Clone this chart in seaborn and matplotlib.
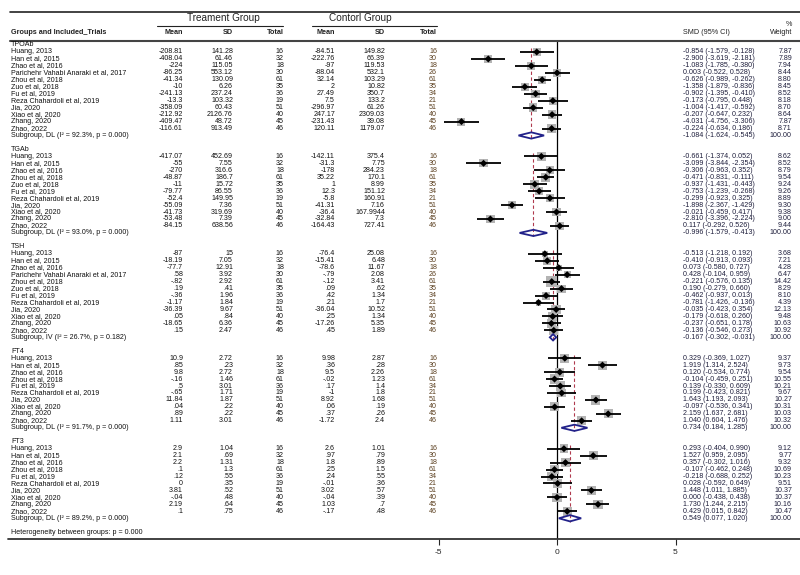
import numpy as np
import pandas as pd
import seaborn as sns
import matplotlib.pyplot as plt
from matplotlib.lines import Line2D
from matplotlib.transforms import blended_transform_factory

# ---- data ----
groups = ["TPOAb", "TGAb", "TSH", "FT4", "FT3"]
methods = ["DL", "DL", "IV", "DL", "DL"]
i2 = ["92.3%", "93.0%", "26.7%", "91.7%", "89.2%"]
p_het = ["0.000", "0.000", "0.182", "0.000", "0.000"]
sub_smd = [-1.084, -0.996, -0.167, 0.734, 0.549]
sub_lo = [-1.624, -1.579, -0.302, 0.184, 0.077]
sub_hi = [-0.545, -0.413, -0.031, 1.285, 1.020]

trials12 = ["Huang, 2013", "Han et al, 2015", "Zhao et al, 2016",
            "Parichehr Vahabi Anaraki et al, 2017", "Zhou et al, 2018", "Zuo et al, 2018",
            "Fu et al, 2019", "Reza Chahardoli et al, 2019", "Jia, 2020", "Xiao et al, 2020",
            "Zhang, 2020", "Zhao, 2022"]
trials11 = ["Huang, 2013", "Han et al, 2015", "Zhao et al, 2016", "Zhou et al, 2018",
            "Zuo et al, 2018", "Fu et al, 2019", "Reza Chahardoli et al, 2019", "Jia, 2020",
            "Xiao et al, 2020", "Zhang, 2020", "Zhao, 2022"]
trials10 = ["Huang, 2013", "Han et al, 2015", "Zhao et al, 2016", "Zhou et al, 2018",
            "Fu et al, 2019", "Reza Chahardoli et al, 2019", "Jia, 2020", "Xiao et al, 2020",
            "Zhang, 2020", "Zhao, 2022"]

tpo_t_mean = ["-208.81", "-408.04", "-224", "-86.25", "-41.34", "-10", "-241.13", "-13.3", "-358.09", "-212.92", "-409.47", "-116.61"]
tpo_t_sd = ["141.28", "61.46", "115.05", "553.12", "130.09", "6.26", "237.24", "103.32", "60.43", "2126.76", "48.72", "913.49"]
tpo_t_n = [16, 32, 18, 30, 61, 35, 36, 19, 51, 40, 45, 46]
tpo_c_mean = ["-84.51", "-222.76", "-97", "-88.04", "32.14", "2", "27.49", "7.5", "-296.97", "247.17", "-231.43", "120.11"]
tpo_c_sd = ["149.82", "66.39", "119.53", "532.1", "103.29", "10.82", "350.7", "133.2", "61.26", "2309.03", "39.08", "1179.07"]
tpo_c_n = [16, 30, 18, 26, 61, 35, 34, 21, 51, 40, 45, 46]
tpo_smd = [-0.854, -2.900, -1.083, 0.003, -0.626, -1.358, -0.902, -0.173, -1.004, -0.207, -4.031, -0.224]
tpo_lo = [-1.579, -3.619, -1.785, -0.522, -0.989, -1.879, -1.395, -0.795, -1.417, -0.647, -4.756, -0.634]
tpo_hi = [-0.128, -2.181, -0.380, 0.528, -0.262, -0.836, -0.410, 0.448, -0.592, 0.232, -3.306, 0.186]
tpo_w = [7.87, 7.89, 7.94, 8.44, 8.80, 8.45, 8.52, 8.18, 8.70, 8.64, 7.87, 8.71]

tg_t_mean = ["-417.07", "-55", "-270", "-48.87", "-11", "-79.77", "-52.4", "-55.09", "-41.73", "-53.48", "-84.15"]
tg_t_sd = ["452.69", "7.55", "316.6", "186.7", "15.72", "86.55", "149.95", "7.36", "319.69", "7.39", "638.56"]
tg_t_n = [16, 32, 18, 61, 35, 36, 19, 51, 40, 45, 46]
tg_c_mean = ["-142.11", "-31.3", "-178", "35.22", "1", "12.3", "-5.8", "-41.31", "-36.4", "-32.84", "-164.43"]
tg_c_sd = ["375.4", "7.75", "284.23", "170.1", "8.99", "151.12", "160.91", "7.16", "167.9944", "7.3", "727.41"]
tg_c_n = [16, 30, 18, 61, 35, 34, 21, 51, 40, 45, 46]
tg_smd = [-0.661, -3.099, -0.306, -0.471, -0.937, -0.753, -0.299, -1.898, -0.021, -2.810, 0.117]
tg_lo = [-1.374, -3.844, -0.963, -0.831, -1.431, -1.239, -0.923, -2.367, -0.459, -3.396, -0.292]
tg_hi = [0.052, -2.354, 0.352, -0.111, -0.443, -0.268, 0.325, -1.429, 0.417, -2.224, 0.526]
tg_w = [8.62, 8.52, 8.79, 9.54, 9.24, 9.26, 8.89, 9.30, 9.38, 9.00, 9.44]

tsh_t_mean = ["-87", "-18.19", "-77.7", ".58", "-.82", ".19", "-.36", "-1.17", "-36.39", ".05", "-18.65", ".15"]
tsh_t_sd = ["15", "7.05", "12.91", "3.92", "2.92", ".41", "1.96", "1.84", "9.67", ".84", "6.36", "2.47"]
tsh_t_n = [16, 32, 18, 30, 61, 35, 36, 19, 51, 40, 45, 46]
tsh_c_mean = ["-76.4", "-15.41", "-78.6", "-.79", "-.12", ".09", ".42", ".21", "-36.04", ".25", "-17.26", ".45"]
tsh_c_sd = ["25.08", "6.48", "11.67", "2.08", "3.41", ".62", "1.34", "1.7", "10.52", "1.34", "5.35", "1.89"]
tsh_c_n = [16, 30, 18, 26, 61, 35, 34, 21, 51, 40, 45, 46]
tsh_smd = [-0.513, -0.410, 0.073, 0.428, -0.221, 0.190, -0.462, -0.781, -0.035, -0.179, -0.237, -0.136]
tsh_lo = [-1.218, -0.913, -0.580, -0.104, -0.576, -0.279, -0.937, -1.426, -0.423, -0.618, -0.651, -0.546]
tsh_hi = [0.192, 0.093, 0.727, 0.959, 0.135, 0.660, 0.013, -0.136, 0.354, 0.260, 0.178, 0.273]
tsh_w = [3.68, 7.21, 4.28, 6.47, 14.42, 8.29, 8.10, 4.39, 12.13, 9.48, 10.63, 10.92]

ft4_t_mean = ["10.9", ".85", "9.8", "-.16", ".5", "-.65", "11.84", ".04", ".89", "1.11"]
ft4_t_sd = ["2.72", ".23", "2.72", "1.46", "3.01", "1.71", "1.87", ".22", ".22", "3.01"]
ft4_t_n = [16, 32, 18, 61, 36, 19, 51, 40, 45, 46]
ft4_c_mean = ["9.98", ".36", "9.5", "-.02", ".17", "-1", "8.92", ".06", ".37", "-1.72"]
ft4_c_sd = ["2.87", ".28", "2.26", "1.23", "1.4", "1.8", "1.68", ".19", ".26", "2.4"]
ft4_c_n = [16, 30, 18, 61, 34, 21, 51, 40, 45, 46]
ft4_smd = [0.329, 1.919, 0.120, -0.104, 0.139, 0.199, 1.643, -0.097, 2.159, 1.040]
ft4_lo = [-0.369, 1.314, -0.534, -0.459, -0.330, -0.423, 1.193, -0.536, 1.637, 0.604]
ft4_hi = [1.027, 2.524, 0.774, 0.251, 0.609, 0.821, 2.093, 0.341, 2.681, 1.476]
ft4_w = [9.37, 9.73, 9.54, 10.55, 10.21, 9.67, 10.27, 10.31, 10.03, 10.32]

ft3_t_mean = ["2.9", "2.1", "2.2", ".1", ".12", "0", "3.81", "-.04", "2.19", ".1"]
ft3_t_sd = ["1.04", ".69", "1.31", "1.3", ".55", ".35", ".52", ".48", ".64", ".75"]
ft3_t_n = [16, 32, 18, 61, 36, 19, 51, 40, 45, 46]
ft3_c_mean = ["2.6", ".97", "1.8", ".25", ".24", "-.01", "3.02", "-.04", "1.03", "-.17"]
ft3_c_sd = ["1.01", ".79", ".89", "1.5", ".55", ".36", ".57", ".39", ".7", ".48"]
ft3_c_n = [16, 30, 18, 61, 34, 21, 51, 40, 45, 46]
ft3_smd = [0.293, 1.527, 0.357, -0.107, -0.218, 0.028, 1.448, 0.000, 1.730, 0.429]
ft3_lo = [-0.404, 0.959, -0.302, -0.462, -0.688, -0.592, 1.011, -0.438, 1.244, 0.015]
ft3_hi = [0.990, 2.095, 1.016, 0.248, 0.252, 0.649, 1.885, 0.438, 2.215, 0.842]
ft3_w = [9.12, 9.77, 9.32, 10.69, 10.23, 9.51, 10.37, 10.37, 10.16, 10.47]

group_data = {
    "TPOAb": (trials12, tpo_t_mean, tpo_t_sd, tpo_t_n, tpo_c_mean, tpo_c_sd, tpo_c_n, tpo_smd, tpo_lo, tpo_hi, tpo_w),
    "TGAb": (trials11, tg_t_mean, tg_t_sd, tg_t_n, tg_c_mean, tg_c_sd, tg_c_n, tg_smd, tg_lo, tg_hi, tg_w),
    "TSH": (trials12, tsh_t_mean, tsh_t_sd, tsh_t_n, tsh_c_mean, tsh_c_sd, tsh_c_n, tsh_smd, tsh_lo, tsh_hi, tsh_w),
    "FT4": (trials10, ft4_t_mean, ft4_t_sd, ft4_t_n, ft4_c_mean, ft4_c_sd, ft4_c_n, ft4_smd, ft4_lo, ft4_hi, ft4_w),
    "FT3": (trials10, ft3_t_mean, ft3_t_sd, ft3_t_n, ft3_c_mean, ft3_c_sd, ft3_c_n, ft3_smd, ft3_lo, ft3_hi, ft3_w),
}
cols = ["trial", "t_mean", "t_sd", "t_n", "c_mean", "c_sd", "c_n", "smd", "lo", "hi", "w"]

# ---- lay out rows ----
studies = []
subgroups = []
headers = []
r = 0
for gi, g in enumerate(groups):
    headers.append((g, r))
    r += 1
    first = r
    d = pd.DataFrame(dict(zip(cols, group_data[g])))
    d["row"] = np.arange(r, r + len(d))
    d["group"] = g
    studies.append(d)
    r += len(d)
    subgroups.append(dict(group=g, row=r, first=first, smd=sub_smd[gi], lo=sub_lo[gi], hi=sub_hi[gi],
                          label=f"Subgroup, {methods[gi]} (I\u00b2 = {i2[gi]}, p = {p_het[gi]})"))
    r += 2
het_row = r
df = pd.concat(studies, ignore_index=True)
sub = pd.DataFrame(subgroups)

# ---- figure ----
sns.set_style("white")
plt.rcParams['font.family'] = ['Liberation Sans', 'DejaVu Sans']
plt.rcParams['axes.unicode_minus'] = False

W, H = 800, 575
fig = plt.figure(figsize=(8, 5.75), dpi=100)
fx = lambda px: px / W
fy = lambda py: 1 - py / H

top_px, bot_px = 41, 539
row0_px, row_h = 45, 6.96
zero_px, unit_px = 557, 23.7

ax = fig.add_axes([fx(400), fy(bot_px), fx(400), fy(top_px) - fy(bot_px)])

sns.scatterplot(data=df, x="smd", y="row", size="w", sizes=(0, 420), size_norm=(0, 100),
                marker="s", color="#b4b4b4", edgecolor="none", legend=False, ax=ax, zorder=2)
ax.hlines(df["row"], df["lo"], df["hi"], color="black", lw=1.3, zorder=3)
sns.scatterplot(data=df, x="smd", y="row", marker="D", s=13, color="black", edgecolor="none",
                legend=False, ax=ax, zorder=4)

ax.axvline(0, color="black", lw=0.9, zorder=1)
for _, s in sub.iterrows():
    ax.vlines(s["smd"], s["first"] - 0.5, s["row"] + 0.5, colors="#b03a4e", lw=0.8,
              linestyles=(0, (3, 2.2)), zorder=1)
    ax.fill([s["lo"], s["smd"], s["hi"], s["smd"]], [s["row"], s["row"] - 0.45, s["row"], s["row"] + 0.45],
            facecolor="none", edgecolor="#22228a", lw=1.3, zorder=5)

ax.set_xlim((400 - zero_px) / unit_px, (800 - zero_px) / unit_px)
ax.set_ylim((bot_px - row0_px) / row_h, (top_px - row0_px) / row_h)
ax.set_xticks([-5, 0, 5])
ax.set_yticks([])
ax.set_xlabel("")
ax.set_ylabel("")
ax.tick_params(axis="x", bottom=True, direction="out", length=4, width=0.8, labelsize=6, pad=3)
for sp in ax.spines.values():
    sp.set_visible(False)
ax.patch.set_alpha(0)

# ---- rules ----
def hline(y, x0, x1, lw, color="#222222"):
    fig.add_artist(Line2D([fx(x0), fx(x1)], [fy(y), fy(y)], color=color, lw=lw))

hline(12, 10, 800, 1.2)
hline(26, 157, 283, 0.8)
hline(26, 312, 437, 0.8)
hline(41, 10, 800, 1.5, "#444444")
hline(bot_px, 8, 800, 1.3, "#333333")

# ---- header text ----
fig.text(fx(223), fy(18), "Treament Group", ha="center", va="center", fontsize=7.2, color="#222222")
fig.text(fx(360), fy(18), "Contorl Group", ha="center", va="center", fontsize=7.2, color="#222222")
hdr = dict(va="center", fontsize=5.2, fontweight="bold", color="#222222")
fig.text(fx(11), fy(32), "Groups and Included_Trials", ha="left", **hdr)
for xr, lab in [(183, "Mean"), (233, "SD"), (284, "Total"), (335, "Mean"), (385, "SD"), (437, "Total")]:
    fig.text(fx(xr), fy(32), lab, ha="right", **hdr)
fig.text(fx(683), fy(32), "SMD (95% CI)", ha="left", va="center", fontsize=5.2, color="#222222")
fig.text(fx(792), fy(24), "%", ha="right", va="center", fontsize=5.2, color="#222222")
fig.text(fx(792), fy(32), "Weight", ha="right", va="center", fontsize=5.2, color="#222222")

# ---- table body ----
tr = blended_transform_factory(fig.transFigure, ax.transData)
fs = 5.1
body = dict(va="center", fontsize=fs, transform=tr, color="#111111")
smd_col = "#1e1e3c"
for g, row in headers:
    fig.text(fx(11), row, g, ha="left", **body)
for _, s in df.iterrows():
    y = s["row"]
    fig.text(fx(11), y, s["trial"], ha="left", **body)
    fig.text(fx(183), y, s["t_mean"], ha="right", **body)
    fig.text(fx(233), y, s["t_sd"], ha="right", **body)
    fig.text(fx(284), y, str(s["t_n"]), ha="right", **body)
    fig.text(fx(335), y, s["c_mean"], ha="right", **body)
    fig.text(fx(385), y, s["c_sd"], ha="right", **body)
    fig.text(fx(437), y, str(s["c_n"]), ha="right", va="center", fontsize=fs, transform=tr, color="#5a3e1e")
    fig.text(fx(683), y, f"{s['smd']:.3f} ({s['lo']:.3f}, {s['hi']:.3f})", ha="left",
             va="center", fontsize=fs, transform=tr, color=smd_col)
    fig.text(fx(792), y, f"{s['w']:.2f}", ha="right", va="center", fontsize=fs, transform=tr, color=smd_col)
for _, s in sub.iterrows():
    y = s["row"]
    fig.text(fx(11), y, s["label"], ha="left", **body)
    fig.text(fx(683), y, f"{s['smd']:.3f} ({s['lo']:.3f}, {s['hi']:.3f})", ha="left",
             va="center", fontsize=fs, transform=tr, color=smd_col)
    fig.text(fx(792), y, "100.00", ha="right", va="center", fontsize=fs, transform=tr, color=smd_col)
fig.text(fx(11), het_row, "Heterogeneity between groups: p = 0.000", ha="left", **body)

fig.savefig("out.png", dpi=100)
